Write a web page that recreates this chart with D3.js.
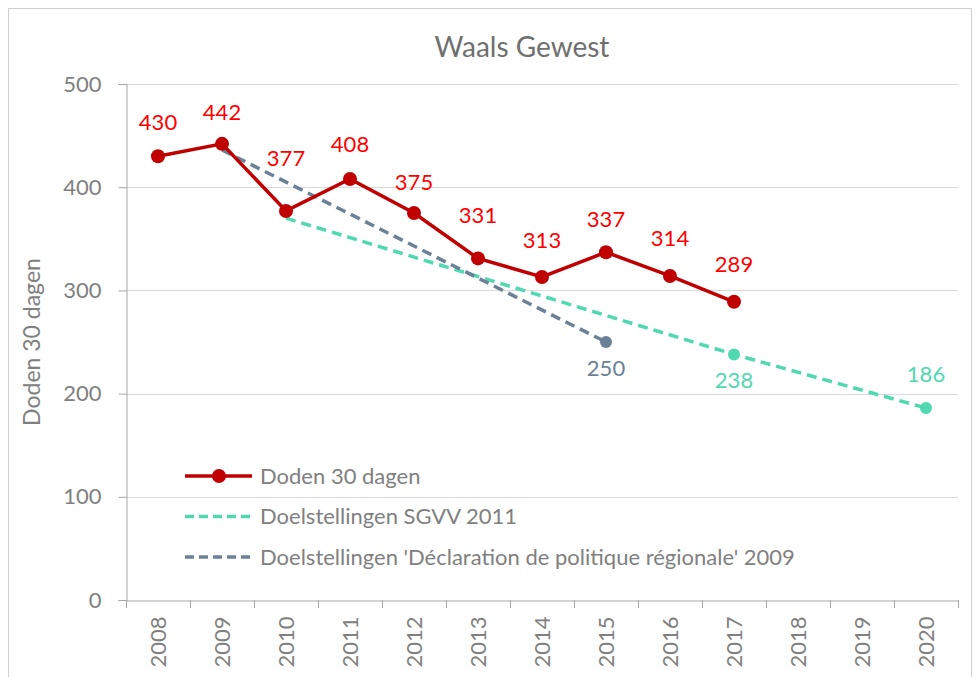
<!DOCTYPE html>
<html>
<head>
<meta charset="utf-8">
<script src="https://cdn.jsdelivr.net/npm/d3@7"></script>
<style>
  body { margin: 0; background: #fff; }
  svg text { font-family: Lato, "Open Sans", sans-serif; }
</style>
</head>
<body>
<svg id="chart" width="980" height="677"></svg>
<script>
// Data
const years = ['2008', '2009', '2010', '2011', '2012', '2013', '2014', '2015', '2016', '2017', '2018', '2019', '2020'];
const dodenYears = ['2008', '2009', '2010', '2011', '2012', '2013', '2014', '2015', '2016', '2017'];
const dodenValues = [430, 442, 377, 408, 375, 331, 313, 337, 314, 289];
const sgvvYears = ['2010', '2017', '2020'];
const sgvvValues = [370, 238, 186];
const sgvvLabelled = [false, true, true];
const dprYears = ['2009', '2015'];
const dprValues = [436, 250];
const dprLabelled = [false, true];
const yTicks = [0, 100, 200, 300, 400, 500];

// Label baseline offsets above the red points (hand-placed in the original)
const dodenLabelDy = [-26, -24, -45, -27, -23, -35, -29, -25, -30, -30];

const colors = {
  red: '#c00000',
  redLabel: '#ff0000',
  green: '#50d8b0',
  slate: '#6a8198',
  text: '#808080',
  grid: '#d9d9d9',
  axis: '#a6a6a6'
};

const svg = d3.select('#chart');
const margin = { left: 126, right: 22, top: 84, bottom: 77 };
const width = 980, height = 677;

// Outer border
svg.append('rect')
  .attr('x', 8.5).attr('y', 8.5)
  .attr('width', width - 17).attr('height', height - 8)
  .attr('fill', '#fff')
  .attr('stroke', '#d0d0d0');

const x = d3.scaleBand()
  .domain(years)
  .range([margin.left, width - margin.right]);

const y = d3.scaleLinear()
  .domain([0, 500])
  .range([height - margin.bottom, margin.top]);

const cx = d => x(d) + x.bandwidth() / 2;

// Title
svg.append('text')
  .attr('x', 522).attr('y', 57)
  .attr('text-anchor', 'middle')
  .attr('font-size', 28)
  .attr('fill', '#6f6f6f')
  .text('Waals Gewest');

// Grid lines
svg.append('g')
  .selectAll('line')
  .data(yTicks.filter(t => t > 0))
  .join('line')
  .attr('x1', margin.left).attr('x2', width - margin.right)
  .attr('y1', d => Math.round(y(d)) + 0.5)
  .attr('y2', d => Math.round(y(d)) + 0.5)
  .attr('stroke', colors.grid)
  .attr('stroke-width', 1);

// Y axis
const yAxis = svg.append('g')
  .attr('transform', `translate(${margin.left + 0.5},0)`)
  .call(d3.axisLeft(y).tickValues(yTicks).tickSize(8).tickPadding(17));
yAxis.selectAll('.domain, line').attr('stroke', colors.axis);
yAxis.selectAll('text')
  .attr('font-size', 22)
  .attr('fill', colors.text)
  .style('font-family', 'Lato, sans-serif');

// X axis
const xAxis = svg.append('g')
  .attr('transform', `translate(0,${Math.round(y(0)) + 0.5})`)
  .call(d3.axisBottom(x).tickSize(0).tickPadding(0));
xAxis.select('.domain').attr('stroke', colors.axis);
xAxis.selectAll('.tick')
  .attr('transform', d => `translate(${cx(d)},0)`);
xAxis.selectAll('text')
  .attr('font-size', 22)
  .attr('fill', colors.text)
  .style('font-family', 'Lato, sans-serif')
  .attr('text-anchor', 'end')
  .attr('x', 0).attr('y', 0)
  .attr('dy', '0.35em')
  .attr('transform', 'rotate(-90) translate(-16,0)');

// Category boundary ticks
const bounds = years.map(d => x(d)).concat([x(years[years.length - 1]) + x.bandwidth()]);
svg.append('g')
  .selectAll('line')
  .data(bounds)
  .join('line')
  .attr('x1', d => Math.round(d) + 0.5).attr('x2', d => Math.round(d) + 0.5)
  .attr('y1', Math.round(y(0))).attr('y2', Math.round(y(0)) + 8)
  .attr('stroke', colors.axis);

// Y axis title
svg.append('text')
  .attr('transform', `translate(40,${(margin.top + height - margin.bottom) / 2}) rotate(-90)`)
  .attr('text-anchor', 'middle')
  .attr('font-size', 23)
  .attr('fill', colors.text)
  .text('Doden 30 dagen');

const line = d3.line().x(d => cx(d[0])).y(d => y(d[1]));

// Dashed target lines
const dpr = dprYears.map((d, i) => [d, dprValues[i], dprLabelled[i]]);
const sgvv = sgvvYears.map((d, i) => [d, sgvvValues[i], sgvvLabelled[i]]);

svg.append('path')
  .datum(sgvv)
  .attr('d', line)
  .attr('fill', 'none')
  .attr('stroke', colors.green)
  .attr('stroke-width', 3.5)
  .attr('stroke-dasharray', '10,6');

svg.append('path')
  .datum(dpr)
  .attr('d', line)
  .attr('fill', 'none')
  .attr('stroke', colors.slate)
  .attr('stroke-width', 3.5)
  .attr('stroke-dasharray', '10,6');

// Main series
const doden = dodenYears.map((d, i) => [d, dodenValues[i], dodenLabelDy[i]]);
svg.append('path')
  .datum(doden)
  .attr('d', line)
  .attr('fill', 'none')
  .attr('stroke', colors.red)
  .attr('stroke-width', 3.5);

svg.append('g')
  .selectAll('circle')
  .data(doden)
  .join('circle')
  .attr('cx', d => cx(d[0]))
  .attr('cy', d => y(d[1]))
  .attr('r', 7)
  .attr('fill', colors.red);

svg.append('g')
  .selectAll('text')
  .data(doden)
  .join('text')
  .attr('x', d => cx(d[0]))
  .attr('y', d => y(d[1]) + d[2])
  .attr('text-anchor', 'middle')
  .attr('font-size', 22)
  .attr('fill', colors.redLabel)
  .text(d => d[1]);

// Target markers + labels
function targetMarks(data, color, below) {
  const pts = data.filter(d => d[2]);
  svg.append('g')
    .selectAll('circle')
    .data(pts)
    .join('circle')
    .attr('cx', d => cx(d[0]))
    .attr('cy', d => y(d[1]))
    .attr('r', 6)
    .attr('fill', color);
  svg.append('g')
    .selectAll('text')
    .data(pts)
    .join('text')
    .attr('x', d => cx(d[0]))
    .attr('y', d => y(d[1]) + (below(d) ? 34 : -26))
    .attr('text-anchor', 'middle')
    .attr('font-size', 22)
    .attr('fill', color)
    .text(d => d[1]);
}
targetMarks(dpr, colors.slate, () => true);
targetMarks(sgvv, colors.green, d => d[0] !== '2020');

// Legend
const legendItems = [
  { label: 'Doden 30 dagen', color: colors.red, dash: null, marker: true },
  { label: 'Doelstellingen SGVV 2011', color: colors.green, dash: '9,5', marker: false },
  { label: "Doelstellingen 'Déclaration de politique régionale' 2009", color: colors.slate, dash: '9,5', marker: false }
];
const legend = svg.append('g')
  .selectAll('g')
  .data(legendItems)
  .join('g')
  .attr('transform', (d, i) => `translate(185,${476 + i * 40.5})`);
legend.append('line')
  .attr('x1', 0).attr('x2', 67)
  .attr('stroke', d => d.color)
  .attr('stroke-width', 3.5)
  .attr('stroke-dasharray', d => d.dash);
legend.filter(d => d.marker)
  .append('circle')
  .attr('cx', 34).attr('r', 7)
  .attr('fill', d => d.color);
legend.append('text')
  .attr('x', 75)
  .attr('dy', '0.35em')
  .attr('font-size', 22)
  .attr('fill', colors.text)
  .text(d => d.label);
</script>
</body>
</html>
